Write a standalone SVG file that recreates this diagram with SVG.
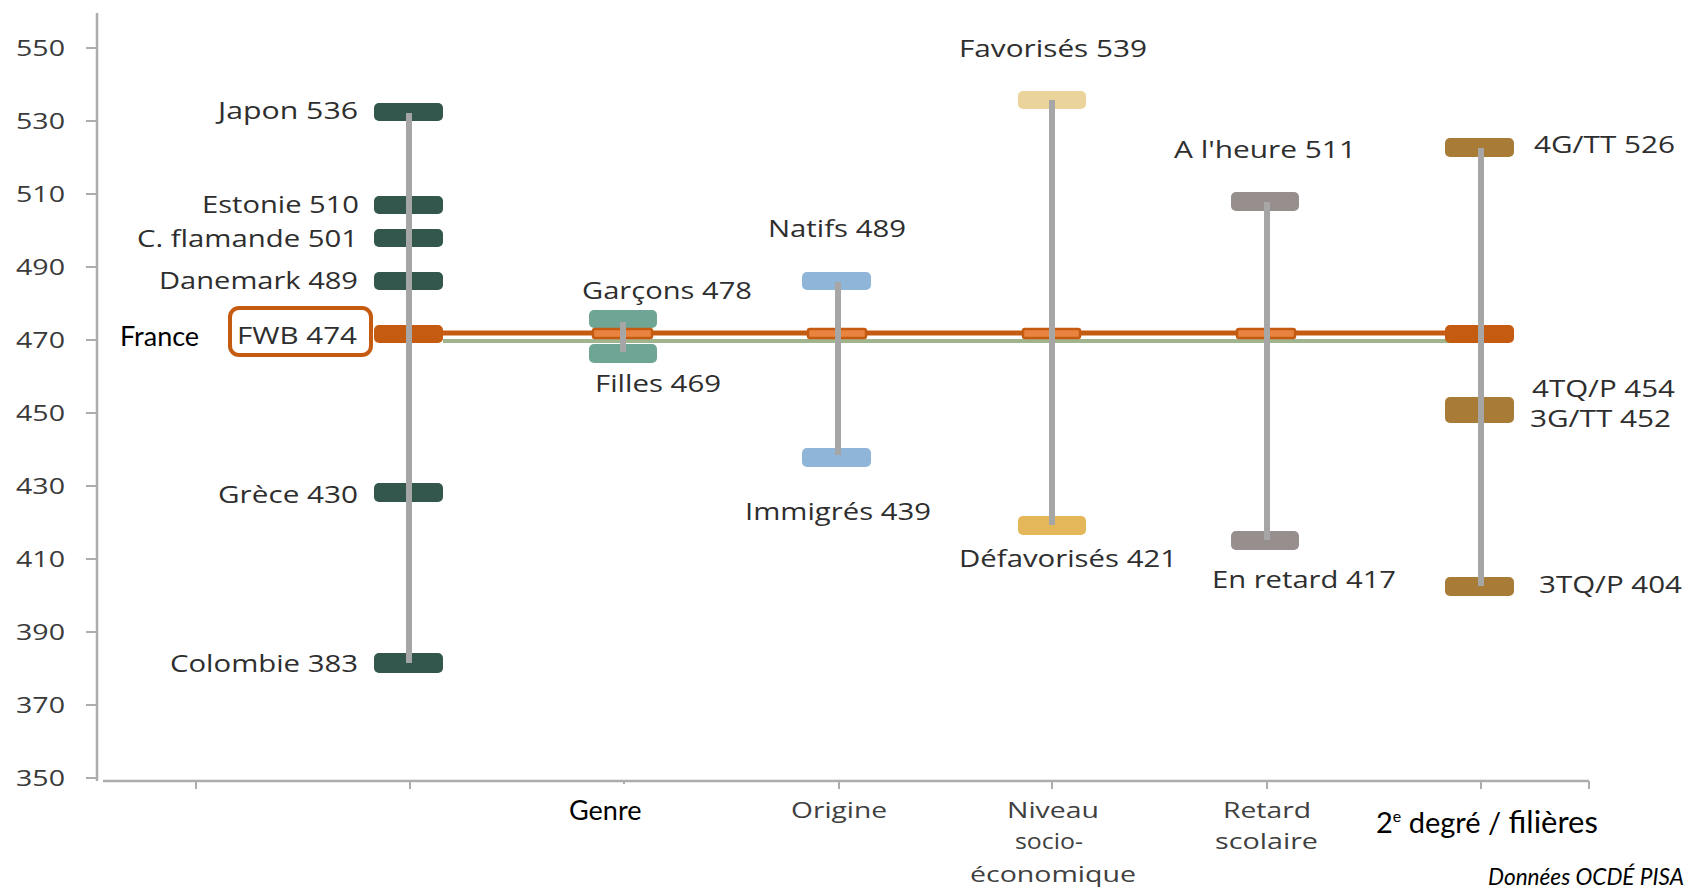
<svg xmlns="http://www.w3.org/2000/svg" width="1689" height="890" viewBox="0 0 1689 890">
<style>
.ax{stroke:#ADADAD;stroke-width:2.5;fill:none}
.tk{stroke:#ADADAD;stroke-width:2;fill:none}
.yl{font-family:"Open Sans","Noto Sans",sans-serif;font-size:21px;font-weight:500;fill:#3A3A3A}
.lb{font-family:"Open Sans","Noto Sans",sans-serif;font-size:23px;font-weight:500;fill:#2E2E2E}
.cl{font-family:"Open Sans","Noto Sans",sans-serif;font-size:21px;font-weight:500;fill:#404040}
.bk{font-family:Lato,"Noto Sans",sans-serif;fill:#000000}
.rng{stroke:#A6A6A6;stroke-width:6;fill:none}
.cty{fill:#34574D}
.fwb{fill:#C55A11}
.mk{fill:#E8843F;stroke:#C55A11;stroke-width:2.5}
</style>
<rect width="1689" height="890" fill="#FFFFFF"/>
<g id="axes">
<line class="ax" x1="97" y1="13" x2="97" y2="781"/>
<line class="ax" x1="103" y1="781" x2="1589" y2="781"/>
<g class="tk">
<line x1="86" y1="48" x2="97" y2="48"/><line x1="86" y1="121" x2="97" y2="121"/><line x1="86" y1="194" x2="97" y2="194"/><line x1="86" y1="267" x2="97" y2="267"/><line x1="86" y1="340" x2="97" y2="340"/><line x1="86" y1="413" x2="97" y2="413"/><line x1="86" y1="486" x2="97" y2="486"/><line x1="86" y1="559" x2="97" y2="559"/><line x1="86" y1="632" x2="97" y2="632"/><line x1="86" y1="705" x2="97" y2="705"/><line x1="86" y1="778" x2="97" y2="778"/>
<line x1="196" y1="781" x2="196" y2="789"/><line x1="410" y1="781" x2="410" y2="789"/><line x1="624" y1="781" x2="624" y2="784"/><line x1="839" y1="781" x2="839" y2="789"/><line x1="1052" y1="781" x2="1052" y2="789"/><line x1="1267" y1="781" x2="1267" y2="789"/><line x1="1481" y1="781" x2="1481" y2="789"/><line x1="1589" y1="781" x2="1589" y2="789"/>
</g>
<g class="yl">
<text x="16" y="56" textLength="49" lengthAdjust="spacingAndGlyphs">550</text>
<text x="16" y="129" textLength="49" lengthAdjust="spacingAndGlyphs">530</text>
<text x="16" y="202" textLength="49" lengthAdjust="spacingAndGlyphs">510</text>
<text x="16" y="275" textLength="49" lengthAdjust="spacingAndGlyphs">490</text>
<text x="16" y="348" textLength="49" lengthAdjust="spacingAndGlyphs">470</text>
<text x="16" y="421" textLength="49" lengthAdjust="spacingAndGlyphs">450</text>
<text x="16" y="494" textLength="49" lengthAdjust="spacingAndGlyphs">430</text>
<text x="16" y="567" textLength="49" lengthAdjust="spacingAndGlyphs">410</text>
<text x="16" y="640" textLength="49" lengthAdjust="spacingAndGlyphs">390</text>
<text x="16" y="713" textLength="49" lengthAdjust="spacingAndGlyphs">370</text>
<text x="16" y="786" textLength="49" lengthAdjust="spacingAndGlyphs">350</text>
</g>
<text class="bk" x="569" y="820" font-size="27">Genre</text>
<text class="cl" x="791" y="818" textLength="96" lengthAdjust="spacingAndGlyphs">Origine</text>
<text class="cl" x="1007" y="818" textLength="92" lengthAdjust="spacingAndGlyphs">Niveau</text>
<text class="cl" x="1015" y="849" textLength="68" lengthAdjust="spacingAndGlyphs">socio-</text>
<text class="cl" x="970" y="882" textLength="166" lengthAdjust="spacingAndGlyphs">économique</text>
<text class="cl" x="1223" y="818" textLength="88" lengthAdjust="spacingAndGlyphs">Retard</text>
<text class="cl" x="1215" y="849" textLength="103" lengthAdjust="spacingAndGlyphs">scolaire</text>
<text class="bk" x="1376" y="833" font-size="29">2<tspan font-size="16" dy="-11">e</tspan><tspan dy="11"> degré / </tspan><tspan font-size="31">filières</tspan></text>
<text class="bk" x="1488" y="885" font-size="23" font-style="italic" textLength="196" lengthAdjust="spacingAndGlyphs">Données OCDÉ PISA</text>
</g>
<g id="reference-lines">
<line x1="443" y1="333" x2="1445" y2="333" stroke="#C55A11" stroke-width="5"/>
<line x1="443" y1="341" x2="1450" y2="341" stroke="#A0B48E" stroke-width="4"/>
</g>
<g id="pays">
<g id="japon"><rect class="cty" x="374" y="103" width="69" height="18" rx="5"/><text class="lb" x="218" y="119" textLength="140" lengthAdjust="spacingAndGlyphs">Japon 536</text></g>
<g id="estonie"><rect class="cty" x="374" y="196" width="69" height="18" rx="5"/><text class="lb" x="202" y="213" textLength="157" lengthAdjust="spacingAndGlyphs">Estonie 510</text></g>
<g id="flandre"><rect class="cty" x="374" y="229" width="69" height="18" rx="5"/><text class="lb" x="137" y="247" textLength="221" lengthAdjust="spacingAndGlyphs">C. flamande 501</text></g>
<g id="danemark"><rect class="cty" x="374" y="272" width="69" height="18" rx="5"/><text class="lb" x="159" y="289" textLength="199" lengthAdjust="spacingAndGlyphs">Danemark 489</text></g>
<g id="fwb"><rect x="230" y="308" width="141" height="47" rx="9" fill="#FFFFFF" stroke="#C55A11" stroke-width="4"/><rect class="fwb" x="374" y="325" width="69" height="18" rx="5"/><text class="lb" x="237" y="344" textLength="120" lengthAdjust="spacingAndGlyphs">FWB 474</text><text class="bk" x="120" y="346" font-size="27">France</text></g>
<g id="grece"><rect class="cty" x="374" y="483" width="69" height="19" rx="5"/><text class="lb" x="218" y="503" textLength="140" lengthAdjust="spacingAndGlyphs">Grèce 430</text></g>
<g id="colombie"><rect class="cty" x="374" y="653" width="69" height="20" rx="5"/><text class="lb" x="170" y="672" textLength="188" lengthAdjust="spacingAndGlyphs">Colombie 383</text></g>
</g>
<g id="genre">
<g id="garcons"><rect x="589" y="310" width="68" height="18" rx="5" fill="#6FA594"/><text class="lb" x="582" y="299" textLength="170" lengthAdjust="spacingAndGlyphs">Garçons 478</text></g>
<g id="filles"><rect x="589" y="344" width="68" height="19" rx="5" fill="#6FA594"/><text class="lb" x="595" y="392" textLength="126" lengthAdjust="spacingAndGlyphs">Filles 469</text></g>
<rect class="mk" x="593" y="329" width="59" height="9" rx="2"/>
</g>
<g id="origine">
<g id="natifs"><rect x="802" y="272" width="69" height="18" rx="5" fill="#8FB5D9"/><text class="lb" x="768" y="237" textLength="138" lengthAdjust="spacingAndGlyphs">Natifs 489</text></g>
<g id="immigres"><rect x="802" y="448" width="69" height="19" rx="5" fill="#8FB5D9"/><text class="lb" x="745" y="520" textLength="186" lengthAdjust="spacingAndGlyphs">Immigrés 439</text></g>
<rect class="mk" x="808" y="329" width="58" height="9" rx="2"/>
</g>
<g id="niveau">
<g id="favorises"><rect x="1018" y="91" width="68" height="18" rx="5" fill="#EBD49C"/><text class="lb" x="959" y="57" textLength="188" lengthAdjust="spacingAndGlyphs">Favorisés 539</text></g>
<g id="defavorises"><rect x="1018" y="516" width="68" height="19" rx="5" fill="#E5B75B"/><text class="lb" x="959" y="567" textLength="218" lengthAdjust="spacingAndGlyphs">Défavorisés 421</text></g>
<rect class="mk" x="1023" y="329" width="57" height="9" rx="2"/>
</g>
<g id="retard">
<g id="heure"><rect x="1231" y="192" width="68" height="19" rx="5" fill="#978E8E"/><text class="lb" x="1174" y="158" textLength="182" lengthAdjust="spacingAndGlyphs">A l'heure 511</text></g>
<g id="en-retard"><rect x="1231" y="531" width="68" height="19" rx="5" fill="#978E8E"/><text class="lb" x="1212" y="588" textLength="184" lengthAdjust="spacingAndGlyphs">En retard 417</text></g>
<rect class="mk" x="1237" y="329" width="58" height="9" rx="2"/>
</g>
<g id="filieres">
<g id="g4tt"><rect x="1445" y="138" width="69" height="19" rx="5" fill="#A87C36"/><text class="lb" x="1534" y="153" textLength="141" lengthAdjust="spacingAndGlyphs">4G/TT 526</text></g>
<g id="tq4-g3"><rect x="1445" y="397" width="69" height="26" rx="5" fill="#A87C36"/><text class="lb" x="1532" y="397" textLength="143" lengthAdjust="spacingAndGlyphs">4TQ/P 454</text><text class="lb" x="1530" y="427" textLength="141" lengthAdjust="spacingAndGlyphs">3G/TT 452</text></g>
<g id="tq3"><rect x="1445" y="577" width="69" height="19" rx="5" fill="#A87C36"/><text class="lb" x="1539" y="593" textLength="143" lengthAdjust="spacingAndGlyphs">3TQ/P 404</text></g>
<rect class="fwb" x="1445" y="325" width="69" height="18" rx="5"/>
</g>
<g id="connectors">
<line class="rng" x1="409" y1="113" x2="409" y2="663"/>
<line class="rng" x1="623" y1="322" x2="623" y2="352"/>
<line class="rng" x1="838" y1="282" x2="838" y2="455"/>
<line class="rng" x1="1052" y1="100" x2="1052" y2="525"/>
<line class="rng" x1="1267" y1="202" x2="1267" y2="540"/>
<line class="rng" x1="1481" y1="148" x2="1481" y2="586"/>
</g>
</svg>
